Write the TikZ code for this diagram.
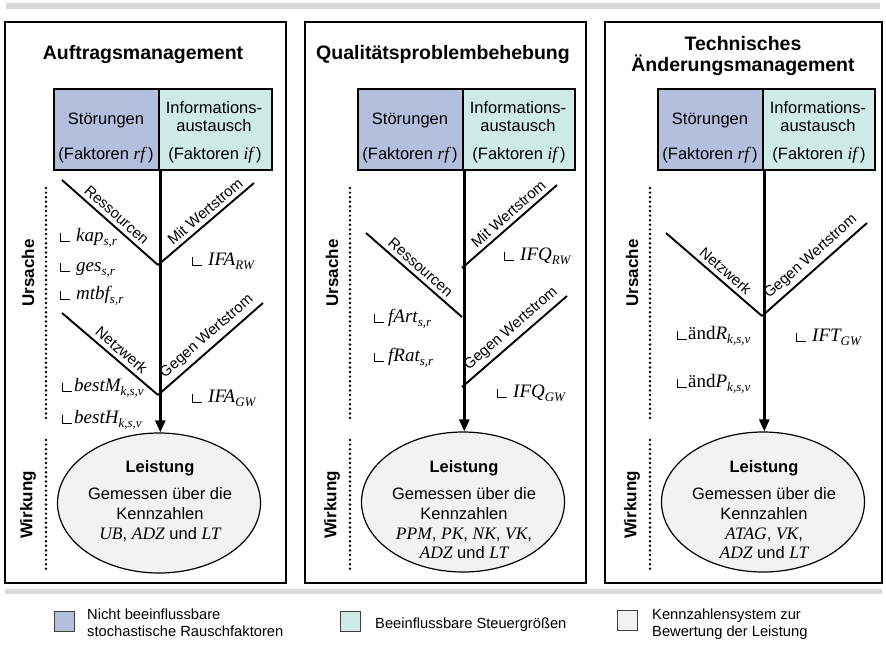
\documentclass[tikz,border=0pt]{standalone}
\usepackage{fontspec}
\setmainfont{Liberation Sans}
\newfontfamily\serifface{Liberation Serif}
\usetikzlibrary{arrows.meta,shapes.geometric,calc}

\definecolor{noise}{RGB}{180,191,222}
\definecolor{control}{RGB}{206,236,229}
\definecolor{kpi}{RGB}{242,242,242}
\definecolor{barg}{RGB}{217,217,217}

% italic serif symbol, and italic symbol with a lowered index
\newcommand\vi[1]{{\fontsize{17.5}{19.8}\selectfont\serifface\itshape #1}}
\newcommand\vx[2]{{\fontsize{19}{21}\selectfont\serifface\itshape #1\raisebox{-4.5pt}{\fontsize{13}{13}\selectfont #2}}}
\newcommand\vu[3]{{\fontsize{19}{21}\selectfont\serifface #1\itshape #2\raisebox{-4.5pt}{\fontsize{13}{13}\selectfont #3}}}

\tikzset{
  panel/.style={draw=black, line width=2.6pt},
  factorbox/.style={draw=black, line width=2.3pt, rectangle, inner sep=0pt, anchor=north west, minimum height=81pt},
  branch/.style={line width=1.9pt},
  trunk/.style={line width=2.6pt, -{Triangle[width=10pt,length=12pt]}},
  perfell/.style={ellipse, draw=black, line width=1.2pt, fill=kpi, minimum width=203pt, minimum height=140pt, inner sep=0pt},
  dotline/.style={line width=2.7pt, line cap=round, dash pattern=on 0pt off 4.6pt},
  titletext/.style={font=\fontsize{19.5}{22}\selectfont\bfseries, inner sep=0pt, anchor=base},
  bodytext/.style={font=\fontsize{16.5}{19.8}\selectfont, inner sep=0pt, anchor=base},
  boldtext/.style={font=\fontsize{16.5}{19.8}\selectfont\bfseries, inner sep=0pt, anchor=base},
  labeltext/.style={font=\fontsize{15}{17}\selectfont, inner sep=4pt},
  sidetext/.style={font=\fontsize{17}{20}\selectfont\bfseries, rotate=90, inner sep=0pt},
  vartext/.style={inner sep=0pt, anchor=base west},
  legendtext/.style={font=\fontsize{14.7}{17}\selectfont, inner sep=0pt, anchor=base west},
  legendbox/.style={draw=black!75, line width=1.1pt, minimum size=20pt, inner sep=0pt, anchor=north west},
}

% small corner mark in front of a variable label: #1 node name, #2 gap
\newcommand\cornermark[2]{%
  \draw[line width=0.85pt] ([xshift={-10pt-#2},yshift=8pt]#1.base west) |- ([xshift={-#2}]#1.base west);}

\begin{document}
\begin{tikzpicture}[x=1pt,y=-1pt]
\fill[white] (0,0) rectangle (886,649);
\useasboundingbox (0,0) rectangle (886,649);

% separator bars
\fill[barg] (6,3) rectangle (880,9);
\fill[barg] (5,589) rectangle (882,594);

% ================= Auftragsmanagement =================
\draw[panel] (5,22) rectangle (286,583);
\node[titletext] (t1) at (143,59) {Auftragsmanagement};
\node[factorbox, fill=noise, minimum width=105pt] (n1) at (53,88) {};
\node[factorbox, fill=control, minimum width=113pt] (c1) at (158,88) {};
\node[bodytext] (n1a) at (106,124) {Störungen};
\node[bodytext] (n1b) at (106,159) {(Faktoren \vi{rf}\,)};
\node[bodytext] (c1a) at (214,113) {Informations-};
\node[bodytext] (c1b) at (214,131) {austausch};
\node[bodytext] (c1c) at (215,159) {(Faktoren \vi{if}\,)};

\node[perfell] (e1) at (159,503) {};
\draw[trunk] (n1.south east) -- (n1.south east |- e1.north);

\coordinate (r1s) at (62,180);
\coordinate (j1a) at (158,265);
\coordinate (w1e) at (254,183);
\coordinate (k1s) at (62,313);
\coordinate (j1b) at (158,395);
\coordinate (g1e) at (263,303);
\draw[branch] (r1s) -- (j1a) node[labeltext, pos=0.5, sloped, above] (lr1) {Ressourcen};
\draw[branch] (j1a) -- (w1e) node[labeltext, pos=0.56, sloped, above] (lw1) {Mit Wertstrom};
\draw[branch] (k1s) -- (j1b) node[labeltext, pos=0.55, sloped, above] (lk1) {Netzwerk};
\draw[branch] (j1b) -- (g1e) node[labeltext, pos=0.54, sloped, above] (lg1) {Gegen Wertstrom};

\node[vartext] (v1a) at (76,241) {\vx{kap}{s,r}}; \cornermark{v1a}{6pt}
\node[vartext] (v1b) at (76,271) {\vx{ges}{s,r}}; \cornermark{v1b}{6pt}
\node[vartext] (v1c) at (76,299) {\vx{mtbf}{s,r}}; \cornermark{v1c}{6pt}
\node[vartext] (v1d) at (74,391) {\vx{bestM}{k,s,v}}; \cornermark{v1d}{2pt}
\node[vartext] (v1e) at (74,423) {\vx{bestH}{k,s,v}}; \cornermark{v1e}{2pt}
\node[vartext] (v1f) at (208,265) {\vx{IFA}{RW}}; \cornermark{v1f}{6pt}
\node[vartext] (v1g) at (208,402) {\vx{IFA}{GW}}; \cornermark{v1g}{6pt}

\node[boldtext] (e1a) at (160,472) {Leistung};
\node[bodytext] (e1b) at (160,499) {Gemessen über die};
\node[bodytext] (e1c) at (160,519) {Kennzahlen};
\node[bodytext] (e1d) at (160,539) {\vi{UB}, \vi{ADZ} und \vi{LT}};

\draw[dotline] (46,188) -- (46,418);
\draw[dotline] (46,440) -- (46,570);
\node[sidetext] (u1) at (28,273) {Ursache};
\node[sidetext] (w1) at (28,505) {Wirkung};

% ================= Qualitätsproblembehebung =================
\draw[panel] (305,22) rectangle (586,583);
\node[titletext] (t2) at (443,59) {Qualitätsproblembehebung};
\node[factorbox, fill=noise, minimum width=105pt] (n2) at (357,88) {};
\node[factorbox, fill=control, minimum width=112pt] (c2) at (462,88) {};
\node[bodytext] (n2a) at (410,124) {Störungen};
\node[bodytext] (n2b) at (410,159) {(Faktoren \vi{rf}\,)};
\node[bodytext] (c2a) at (518,113) {Informations-};
\node[bodytext] (c2b) at (518,131) {austausch};
\node[bodytext] (c2c) at (519,159) {(Faktoren \vi{if}\,)};

\node[perfell] (e2) at (463,502) {};
\draw[trunk] (n2.south east) -- (n2.south east |- e2.north);

\coordinate (j2a) at (462,268);
\coordinate (w2e) at (557,185);
\coordinate (r2s) at (366,233);
\coordinate (j2b) at (462,317);
\coordinate (j2c) at (462,387);
\coordinate (g2e) at (567,296);
\draw[branch] (j2a) -- (w2e) node[labeltext, pos=0.56, sloped, above] (lw2) {Mit Wertstrom};
\draw[branch] (r2s) -- (j2b) node[labeltext, pos=0.5, sloped, above] (lr2) {Ressourcen};
\draw[branch] (j2c) -- (g2e) node[labeltext, pos=0.54, sloped, above] (lg2) {Gegen Wertstrom};

\node[vartext] (v2a) at (520,260) {\vx{IFQ}{RW}}; \cornermark{v2a}{6pt}
\node[vartext] (v2b) at (388,322) {\vx{fArt}{s,r}}; \cornermark{v2b}{4pt}
\node[vartext] (v2c) at (388,361) {\vx{fRat}{s,r}}; \cornermark{v2c}{4pt}
\node[vartext] (v2d) at (513,397) {\vx{IFQ}{GW}}; \cornermark{v2d}{6pt}

\node[boldtext] (e2a) at (464,472) {Leistung};
\node[bodytext] (e2b) at (464,499) {Gemessen über die};
\node[bodytext] (e2c) at (464,519) {Kennzahlen};
\node[bodytext] (e2d) at (464,539) {\vi{PPM}, \vi{PK}, \vi{NK}, \vi{VK},};
\node[bodytext] (e2e) at (464,558) {\vi{ADZ} und \vi{LT}};

\draw[dotline] (350,188) -- (350,418);
\draw[dotline] (350,440) -- (350,570);
\node[sidetext] (u2) at (332,273) {Ursache};
\node[sidetext] (w2) at (332,505) {Wirkung};

% ================= Technisches Änderungsmanagement =================
\draw[panel] (605,22) rectangle (882,583);
\node[titletext] (t3a) at (743,50) {Technisches};
\node[titletext] (t3b) at (743,71) {Änderungsmanagement};
\node[factorbox, fill=noise, minimum width=105pt] (n3) at (657,88) {};
\node[factorbox, fill=control, minimum width=112pt] (c3) at (762,88) {};
\node[bodytext] (n3a) at (710,124) {Störungen};
\node[bodytext] (n3b) at (710,159) {(Faktoren \vi{rf}\,)};
\node[bodytext] (c3a) at (818,113) {Informations-};
\node[bodytext] (c3b) at (818,131) {austausch};
\node[bodytext] (c3c) at (819,159) {(Faktoren \vi{if}\,)};

\node[perfell] (e3) at (763,502) {};
\draw[trunk] (n3.south east) -- (n3.south east |- e3.north);

\coordinate (k3s) at (666,233);
\coordinate (j3a) at (762,316);
\coordinate (g3e) at (867,223);
\draw[branch] (k3s) -- (j3a) node[labeltext, pos=0.55, sloped, above] (lk3) {Netzwerk};
\draw[branch] (j3a) -- (g3e) node[labeltext, pos=0.54, sloped, above] (lg3) {Gegen Wertstrom};

\node[vartext] (v3a) at (688,339) {\vu{änd}{R}{k,s,v}}; \cornermark{v3a}{1pt}
\node[vartext] (v3b) at (688,387) {\vu{änd}{P}{k,s,v}}; \cornermark{v3b}{1pt}
\node[vartext] (v3c) at (812,341) {\vx{IFT}{GW}}; \cornermark{v3c}{6pt}

\node[boldtext] (e3a) at (764,472) {Leistung};
\node[bodytext] (e3b) at (764,499) {Gemessen über die};
\node[bodytext] (e3c) at (764,519) {Kennzahlen};
\node[bodytext] (e3d) at (764,539) {\vi{ATAG}, \vi{VK},};
\node[bodytext] (e3e) at (764,558) {\vi{ADZ} und \vi{LT}};

\draw[dotline] (650,188) -- (650,418);
\draw[dotline] (650,440) -- (650,570);
\node[sidetext] (u3) at (632,273) {Ursache};
\node[sidetext] (w3) at (632,505) {Wirkung};

% ================= legend =================
\node[legendbox, fill=noise] (lb1) at (54,611) {};
\node[legendtext] (lt1a) at (87,619) {Nicht beeinflussbare};
\node[legendtext] (lt1b) at (87,636) {stochastische Rauschfaktoren};
\node[legendbox, fill=control] (lb2) at (340,611) {};
\node[legendtext] (lt2) at (375,628) {Beeinflussbare Steuergrößen};
\node[legendbox, fill=kpi] (lb3) at (617,610) {};
\node[legendtext] (lt3a) at (652,619) {Kennzahlensystem zur};
\node[legendtext] (lt3b) at (652,636) {Bewertung der Leistung};
\end{tikzpicture}
\end{document}
